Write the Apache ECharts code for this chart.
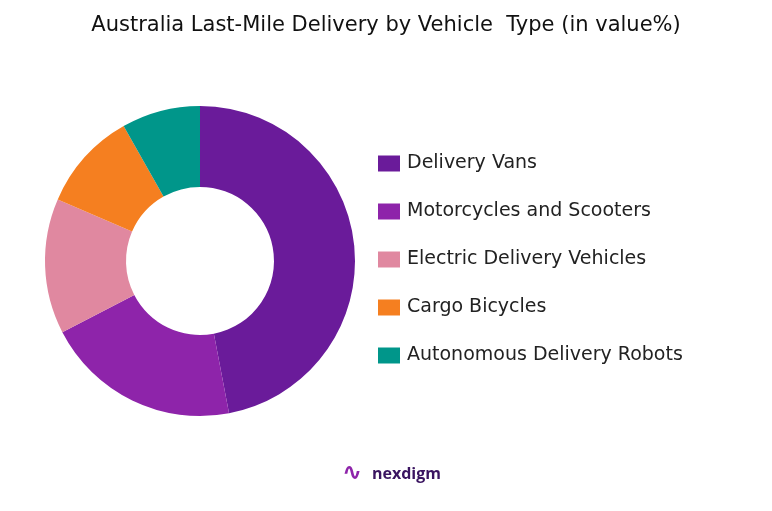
<!DOCTYPE html>
<html><head><meta charset="utf-8">
<script src="https://cdn.jsdelivr.net/npm/echarts@6/dist/echarts.min.js"></script>
<style>html,body{margin:0;padding:0;background:#fff}#c{width:772px;height:511px}</style>
</head><body><div id="c"></div>
<script>
const categories = ["Delivery Vans","Motorcycles and Scooters","Electric Delivery Vehicles","Cargo Bicycles","Autonomous Delivery Robots"];
const values = [47, 20.4, 14.1, 10.3, 8.2];
const colors = ["#6a1b9a","#8e24aa","#e088a0","#f57f20","#00968a"];
const chart = echarts.init(document.getElementById('c'));
chart.setOption({
  title:{text:"Australia Last-Mile Delivery by Vehicle  Type (in value%)",left:'center',top:10,
    textStyle:{fontFamily:'DejaVu Sans',fontWeight:'normal',fontSize:21,color:'#111'}},
  legend:{orient:'vertical',left:373,top:149,itemWidth:22,itemHeight:16,itemGap:29,
    icon:'rect',textStyle:{fontFamily:'DejaVu Sans',fontSize:19,color:'#222',padding:[0,0,0,2]}},
  graphic:[{type:'text',left:372,top:466,style:{text:'nexdigm',font:'bold 16px Open Sans',fill:'#3a1460'}},
           {type:'text',left:342,top:462,style:{text:'∿',font:'bold 24px DejaVu Sans',fill:'#8e24aa'}}],
  series:[{type:'pie',radius:[74,155],center:[200,261],startAngle:90,clockwise:true,
    label:{show:false},labelLine:{show:false},emphasis:{disabled:true},
    data:categories.map((n,i)=>({name:n,value:values[i],itemStyle:{color:colors[i]}}))}]
});
</script></body></html>
